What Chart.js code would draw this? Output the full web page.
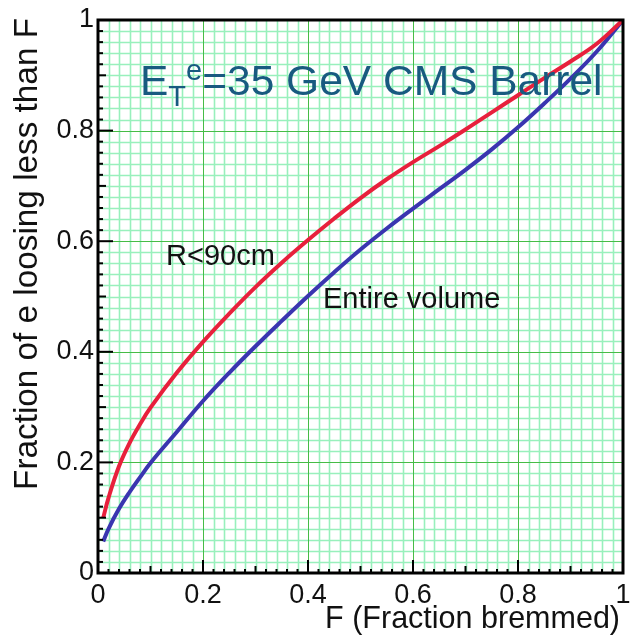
<!DOCTYPE html>
<html>
<head>
<meta charset="utf-8">
<script src="https://cdn.jsdelivr.net/npm/chart.js@4.4.0/dist/chart.umd.min.js"></script>
<style>
  html, body { margin: 0; padding: 0; background: #fff; }
  #wrap { width: 630px; height: 638px; position: relative; }
</style>
</head>
<body>
<div id="wrap"><canvas id="chartBrem"></canvas></div>
<script>
// F = fraction of energy bremmed
const fracBremmed = [0.01, 0.02, 0.04, 0.06, 0.08, 0.10, 0.15, 0.20, 0.25, 0.30, 0.35, 0.40,
                     0.45, 0.50, 0.55, 0.60, 0.65, 0.70, 0.75, 0.80, 0.85, 0.90, 0.95, 1.00];
// electrons converting before R = 90 cm
const innerRadius = [0.100, 0.136, 0.193, 0.235, 0.269, 0.299, 0.362, 0.418, 0.469, 0.517, 0.561, 0.602,
                     0.641, 0.678, 0.712, 0.743, 0.772, 0.802, 0.833, 0.864, 0.895, 0.925, 0.957, 1.000];
// whole tracker volume
const entireVolume = [0.057, 0.080, 0.116, 0.146, 0.173, 0.199, 0.255, 0.311, 0.362, 0.410, 0.456, 0.501,
                      0.544, 0.585, 0.623, 0.659, 0.694, 0.729, 0.766, 0.806, 0.849, 0.894, 0.943, 1.000];
const majorTicks = [0, 0.2, 0.4, 0.6, 0.8, 1];

const FONT = "'Liberation Sans', Arial, sans-serif";
const isMajor = v => Math.abs(v * 5 - Math.round(v * 5)) < 1e-6;
const isHalf = v => Math.abs(v * 10 - Math.round(v * 10)) < 1e-6;

function toPoints(ys) {
  return fracBremmed.map((x, i) => ({ x: x, y: ys[i] }));
}

function tickLabel(v) {
  return majorTicks.some(m => Math.abs(m - v) < 1e-6) ? String(+v.toFixed(1)) : '';
}

// graph-paper grid under the curves
const graphPaper = {
  id: 'graphPaper',
  beforeDatasetsDraw(chart) {
    const { ctx, chartArea: a, scales } = chart;
    ctx.save();
    const pass = major => {
      ctx.strokeStyle = major ? '#46bc46' : '#98f0bc';
      ctx.lineWidth = major ? 1 : 1.6;
      scales.x.ticks.forEach(t => {
        if (isMajor(t.value) !== major) return;
        const px = Math.round(scales.x.getPixelForValue(t.value)) + 0.5;
        ctx.beginPath(); ctx.moveTo(px, a.top); ctx.lineTo(px, a.bottom); ctx.stroke();
      });
      scales.y.ticks.forEach(t => {
        if (isMajor(t.value) !== major) return;
        const py = Math.round(scales.y.getPixelForValue(t.value)) + 0.5;
        ctx.beginPath(); ctx.moveTo(a.left, py); ctx.lineTo(a.right, py); ctx.stroke();
      });
    };
    pass(false);
    pass(true);
    ctx.restore();
  }
};

// frame, inward tick marks, axis titles and the in-plot texts
const decorations = {
  id: 'decorations',
  afterDatasetsDraw(chart) {
    const { ctx, chartArea: a, scales } = chart;
    ctx.save();

    ctx.strokeStyle = '#000';
    ctx.lineWidth = 2;
    scales.x.ticks.forEach(t => {
      const px = scales.x.getPixelForValue(t.value);
      const len = isMajor(t.value) ? 13 : (isHalf(t.value) ? 7 : 4);
      ctx.beginPath();
      ctx.moveTo(px, a.bottom);
      ctx.lineTo(px, a.bottom - len);
      ctx.stroke();
    });
    scales.y.ticks.forEach(t => {
      const py = scales.y.getPixelForValue(t.value);
      const len = isMajor(t.value) ? 15 : (isHalf(t.value) ? 8 : 5);
      ctx.beginPath();
      ctx.moveTo(a.left, py);
      ctx.lineTo(a.left + len, py);
      ctx.stroke();
    });

    ctx.lineWidth = 3;
    ctx.strokeRect(a.left, a.top, a.right - a.left, a.bottom - a.top);

    // E_T^e title
    ctx.fillStyle = '#185a80';
    ctx.textBaseline = 'alphabetic';
    ctx.textAlign = 'left';
    let x = 140;
    ctx.font = '42.5px ' + FONT;
    ctx.fillText('E', x, 95);
    x += ctx.measureText('E').width;
    ctx.font = '29px ' + FONT;
    ctx.fillText('T', x, 106);
    x += ctx.measureText('T').width;
    ctx.fillText('e', x, 80);
    x += ctx.measureText('e').width;
    ctx.font = '42.5px ' + FONT;
    ctx.fillText('=35 GeV CMS Barrel', x, 95);

    // curve labels
    ctx.fillStyle = '#111';
    ctx.font = '29px ' + FONT;
    ctx.fillText('R<90cm', 166, 265);
    ctx.fillText('Entire volume', 323, 308);

    // axis titles
    ctx.textAlign = 'right';
    ctx.font = '30.5px ' + FONT;
    ctx.fillText('F (Fraction bremmed)', 620, 628);

    ctx.translate(37, 18);
    ctx.rotate(-Math.PI / 2);
    ctx.font = '33.3px ' + FONT;
    ctx.fillText('Fraction of e loosing less than F', 0, 0);

    ctx.restore();
  }
};

new Chart(document.getElementById('chartBrem').getContext('2d'), {
  type: 'scatter',
  data: {
    datasets: [
      {
        label: 'R<90cm',
        data: toPoints(innerRadius),
        showLine: true,
        borderColor: '#e8203c',
        borderWidth: 4,
        pointRadius: 0,
        tension: 0.4
      },
      {
        label: 'Entire volume',
        data: toPoints(entireVolume),
        showLine: true,
        borderColor: '#3a35b0',
        borderWidth: 4,
        pointRadius: 0,
        tension: 0.4
      }
    ]
  },
  options: {
    responsive: true,
    maintainAspectRatio: false,
    animation: false,
    layout: { padding: { top: 20, right: 7, left: 0, bottom: 0 } },
    plugins: { legend: { display: false }, tooltip: { enabled: false } },
    scales: {
      x: {
        type: 'linear',
        min: 0, max: 1,
        afterFit: s => { s.height = 65; s.paddingLeft = 0; s.paddingRight = 0; },
        grid: { display: false, drawTicks: false },
        border: { display: false },
        ticks: {
          stepSize: 0.02,
          autoSkip: false,
          maxRotation: 0,
          padding: 6,
          color: '#111',
          font: { family: FONT, size: 27 },
          callback: tickLabel
        }
      },
      y: {
        type: 'linear',
        min: 0, max: 1,
        afterFit: s => { s.width = 98; s.paddingTop = 0; s.paddingBottom = 0; },
        grid: { display: false, drawTicks: false },
        border: { display: false },
        ticks: {
          stepSize: 0.02,
          autoSkip: false,
          padding: 4,
          color: '#111',
          font: { family: FONT, size: 27 },
          callback: tickLabel
        }
      }
    }
  },
  plugins: [graphPaper, decorations]
});
</script>
</body>
</html>
